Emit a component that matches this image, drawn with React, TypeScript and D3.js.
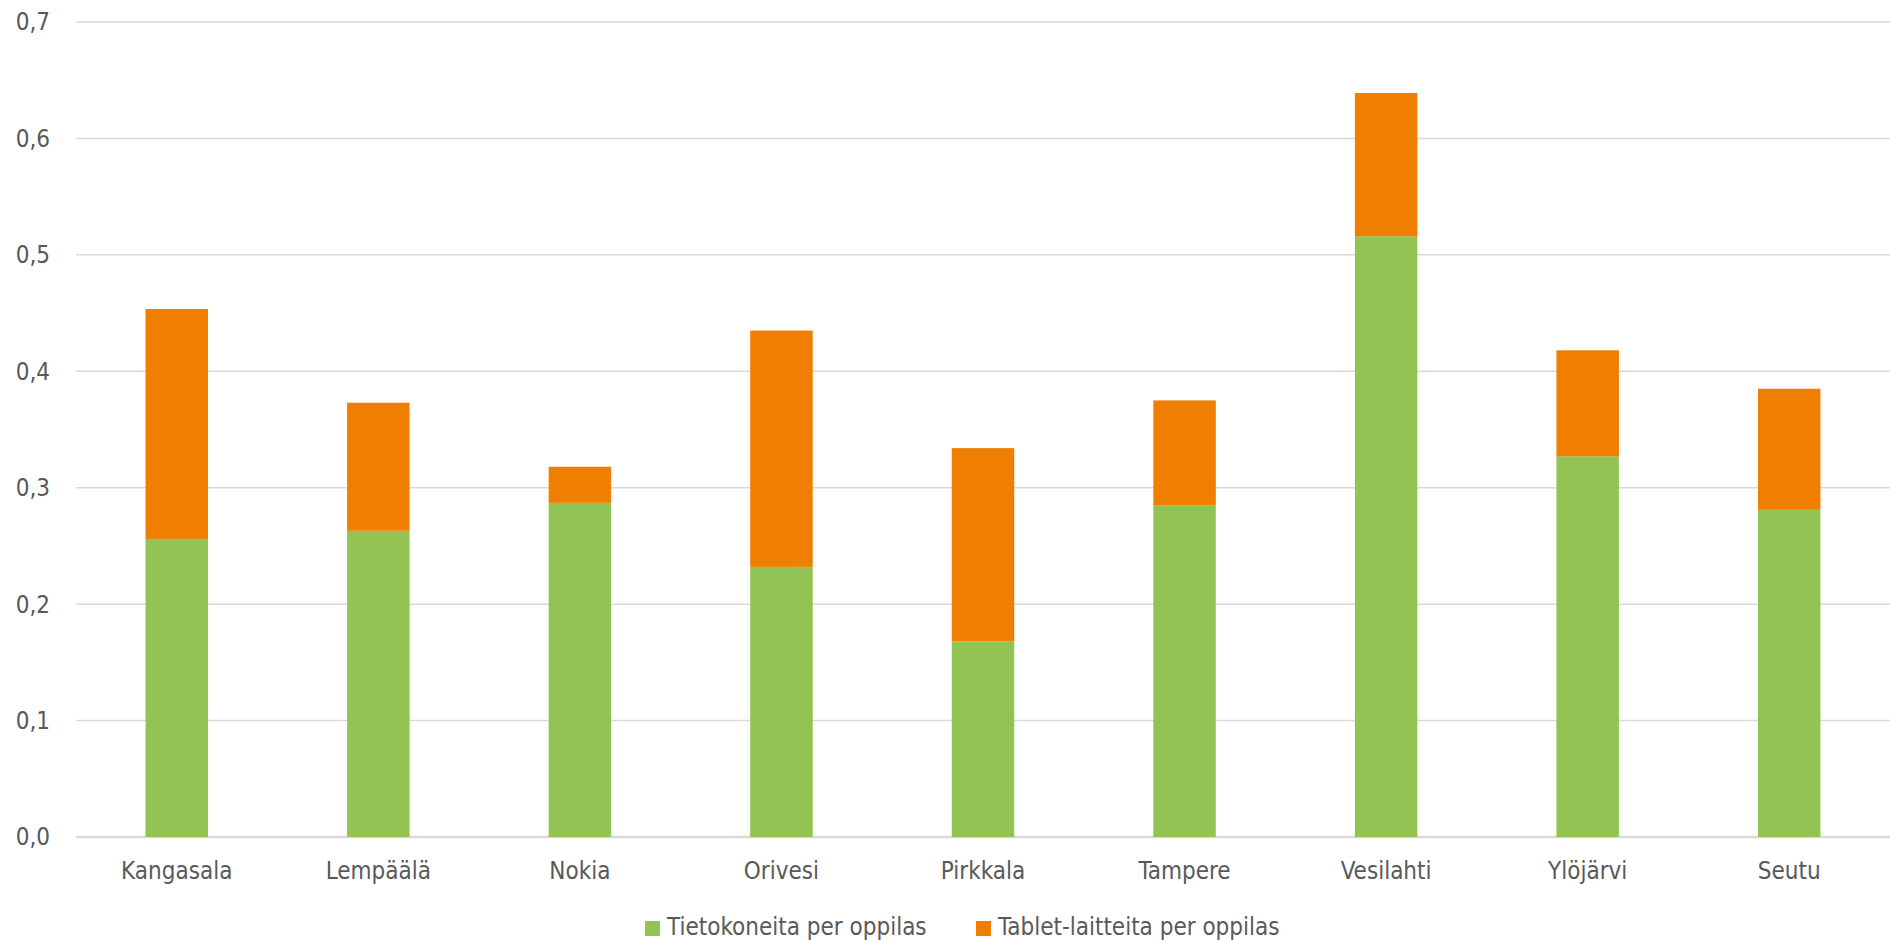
import React from "react";
import * as d3 from "d3";

const categories = ["Kangasala", "Lempäälä", "Nokia", "Orivesi", "Pirkkala", "Tampere", "Vesilahti", "Ylöjärvi", "Seutu"];
const computers = [0.256, 0.263, 0.287, 0.232, 0.168, 0.285, 0.516, 0.327, 0.281];
const tablets = [0.1975, 0.110, 0.031, 0.203, 0.166, 0.090, 0.123, 0.091, 0.104];
const seriesNames = ["Tietokoneita per oppilas", "Tablet-laitteita per oppilas"];
const seriesColors = ["#92c353", "#f07e00"];
const yTicks = [0, 0.1, 0.2, 0.3, 0.4, 0.5, 0.6, 0.7];

const W = 1890;
const H = 941;
const FONT = "'Liberation Sans Narrow', 'DejaVu Sans Condensed', 'Liberation Sans', sans-serif";

export default function App() {
  const x = d3.scaleBand<string>().domain(categories).range([76, 1890]).paddingInner(0.69).paddingOuter(0.345);
  const y = d3.scaleLinear().domain([0, 0.7]).range([837, 22]);

  const rows = categories.map((c, i) => ({ c, a: computers[i], b: tablets[i] }));
  const stack = d3.stack<any>().keys(["a", "b"])(rows);

  return (
    <svg width={W} height={H} style={{ position: "absolute", left: 0, top: 0, background: "#fff" }} fontFamily={FONT}>
      {yTicks.map((t) => (
        <g key={t}>
          <line x1={76} x2={1890} y1={y(t)} y2={y(t)} stroke="#d9d9d9" strokeWidth={t === 0 ? 2.5 : 1.5} />
          <text x={50} y={y(t)} dy="0.35em" textAnchor="end" fontSize={24} fill="#595959">
            {t.toFixed(1).replace(".", ",")}
          </text>
        </g>
      ))}
      {stack.map((s, si) => (
        <g key={si} fill={seriesColors[si]}>
          {s.map((d: any, i: number) => (
            <rect key={i} x={x(categories[i])} width={x.bandwidth()} y={y(d[1])} height={y(d[0]) - y(d[1])} />
          ))}
        </g>
      ))}
      {categories.map((c) => (
        <text key={c} x={(x(c) as number) + x.bandwidth() / 2} y={879} textAnchor="middle" fontSize={24} fill="#595959">
          {c}
        </text>
      ))}
      <g>
        <rect x={645} y={921} width={15} height={15} fill={seriesColors[0]} />
        <text x={667} y={935} fontSize={24} fill="#595959">{seriesNames[0]}</text>
        <rect x={976} y={921} width={15} height={15} fill={seriesColors[1]} />
        <text x={998} y={935} fontSize={24} fill="#595959">{seriesNames[1]}</text>
      </g>
    </svg>
  );
}
